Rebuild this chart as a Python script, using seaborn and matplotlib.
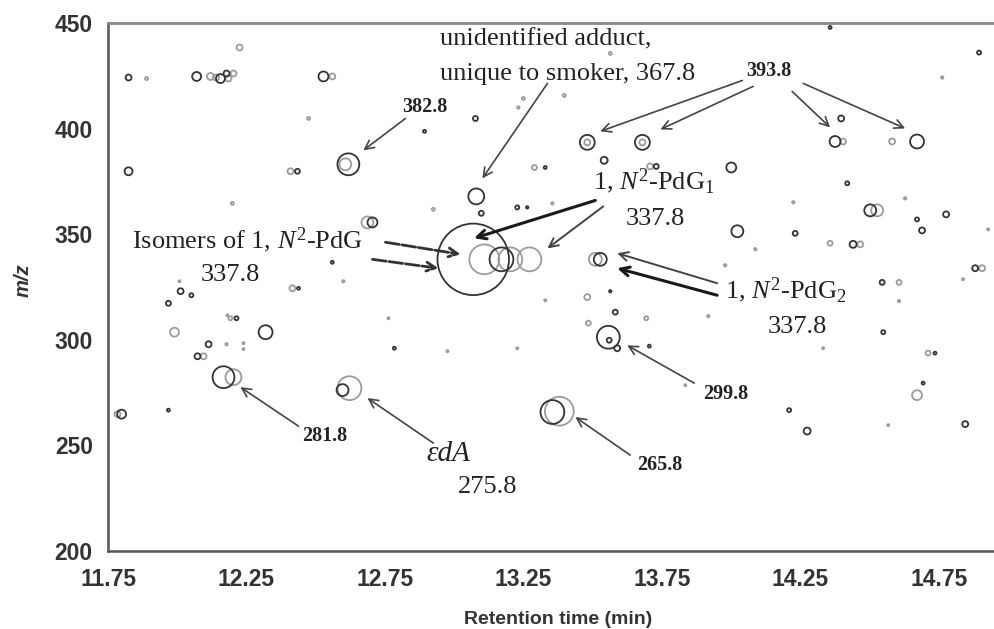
import matplotlib
matplotlib.use("Agg")
import matplotlib.pyplot as plt
import numpy as np
import pandas as pd
import seaborn as sns

# ---------------- data (retention time in min, m/z, relative intensity %) --------------
rt_smoker = [11.824, 12.07, 12.156, 12.178, 12.528, 11.824, 12.434, 12.618, 13.077, 12.893,
             13.08, 13.098, 12.705, 13.481, 13.68, 13.542, 13.329, 13.73, 13.228, 13.264,
             14.358, 14.896, 14.398, 14.376, 14.672, 14.001, 14.42, 14.503, 14.777, 14.023,
             14.672, 14.69, 14.232, 14.441, 13.528, 14.882, 14.546, 13.564, 13.582, 13.557,
             13.56, 13.589, 13.705, 14.55, 14.737, 14.694, 14.21, 14.275, 14.846, 13.355,
             13.069, 13.171, 12.56, 12.438, 12.012, 12.051, 11.968, 12.214, 12.319, 12.113,
             12.073, 12.167, 12.597, 11.799, 11.968, 12.784]
mz_smoker = [424.2, 424.7, 423.7, 426.1, 424.7, 379.8, 379.8, 383.1, 404.8, 398.7,
             367.9, 359.9, 355.6, 393.5, 393.5, 385.0, 381.6, 382.1, 362.7, 362.7,
             447.9, 436.0, 404.8, 393.9, 393.9, 381.6, 374.1, 361.3, 359.4, 351.4,
             357.0, 351.8, 350.4, 345.2, 338.1, 333.9, 327.2, 323.0, 313.1, 301.2,
             299.8, 296.0, 297.0, 303.6, 293.7, 279.5, 266.7, 256.8, 260.1, 265.8,
             338.1, 338.1, 336.7, 324.4, 323.0, 321.1, 317.3, 310.2, 303.6, 297.9,
             292.2, 282.3, 276.2, 264.8, 266.7, 296.0]
int_smoker = [0.69, 1.56, 1.56, 0.69, 1.93, 1.23, 0.48, 9.34, 0.48, 0.17,
              4.94, 0.48, 1.93, 4.34, 4.34, 0.95, 0.17, 0.48, 0.31, 0.11,
              0.17, 0.31, 0.69, 2.33, 3.78, 1.93, 0.31, 2.78, 0.69, 2.78,
              0.31, 0.69, 0.48, 0.95, 3.26, 0.69, 0.48, 0.11, 0.48, 10.2,
              0.48, 0.69, 0.17, 0.31, 0.17, 0.17, 0.31, 0.95, 0.69, 11.1,
              100.0, 11.1, 0.17, 0.17, 0.69, 0.31, 0.48, 0.31, 3.78, 0.69,
              0.69, 9.34, 2.78, 1.56, 0.17, 0.17]

rt_nonsmoker = [11.889, 12.12, 12.14, 12.185, 12.203, 12.225, 12.56, 12.474, 12.409, 12.607,
                12.199, 12.687, 12.925, 13.25, 13.232, 13.398, 13.564, 13.481, 13.68, 13.29,
                13.708, 13.355, 14.763, 14.405, 14.582, 14.225, 14.629, 14.528, 14.929, 14.358,
                14.467, 14.088, 13.51, 13.979, 14.907, 14.838, 14.607, 14.607, 13.481, 13.694,
                13.485, 13.918, 13.329, 14.333, 14.712, 14.672, 13.835, 14.568, 13.38, 13.228,
                13.109, 13.203, 13.272, 12.6, 12.416, 12.008, 12.192, 12.181, 11.99, 12.178,
                12.239, 12.239, 12.095, 12.203, 12.622, 11.784, 12.763, 12.976]
mz_nonsmoker = [423.7, 424.7, 424.2, 423.7, 426.1, 438.4, 424.7, 404.8, 379.8, 383.1,
                364.6, 355.6, 361.8, 414.3, 410.0, 415.7, 435.6, 393.5, 393.5, 381.6,
                382.1, 364.6, 424.2, 393.9, 393.9, 365.1, 367.0, 361.3, 352.3, 345.7,
                345.2, 342.9, 338.1, 335.3, 333.9, 328.7, 327.2, 318.3, 320.2, 310.2,
                307.9, 311.2, 318.7, 296.0, 293.7, 273.8, 278.5, 259.6, 266.2, 296.0,
                338.1, 338.1, 338.1, 327.7, 324.4, 327.7, 310.2, 311.6, 303.6, 297.9,
                298.4, 295.6, 292.2, 282.3, 277.1, 264.8, 310.2, 294.6]
int_nonsmoker = [0.17, 0.95, 0.69, 0.69, 0.69, 0.69, 0.69, 0.17, 0.69, 2.78,
                 0.17, 2.78, 0.17, 0.17, 0.11, 0.17, 0.17, 0.69, 0.69, 0.48,
                 0.69, 0.11, 0.11, 0.69, 0.69, 0.11, 0.11, 2.78, 0.08, 0.48,
                 0.69, 0.11, 3.26, 0.11, 0.69, 0.08, 0.48, 0.11, 0.69, 0.31,
                 0.48, 0.11, 0.08, 0.08, 0.48, 1.93, 0.08, 0.08, 16.2, 0.08,
                 17.4, 11.1, 11.1, 0.11, 0.69, 0.08, 0.31, 0.08, 1.56, 0.11,
                 0.08, 0.08, 0.69, 4.94, 11.1, 0.69, 0.08, 0.08]

x_ticks = [11.75, 12.25, 12.75, 13.25, 13.75, 14.25, 14.75]
y_ticks = [200, 250, 300, 350, 400, 450]

df = pd.DataFrame({
    "rt": rt_nonsmoker + rt_smoker,
    "mz": mz_nonsmoker + mz_smoker,
    "intensity": int_nonsmoker + int_smoker,
    "sample": ["non-smoker"] * len(rt_nonsmoker) + ["smoker"] * len(rt_smoker),
})

# ---------------- style ----------------
sns.set_style("white")
plt.rcParams["mathtext.fontset"] = "custom"
plt.rcParams["mathtext.rm"] = "Liberation Serif"
plt.rcParams["mathtext.it"] = "Liberation Serif:italic"
plt.rcParams["mathtext.bf"] = "Liberation Serif:bold"

fig = plt.figure(figsize=(9.94, 6.29), dpi=100)
ax = fig.add_axes([0.1087, 0.124, 0.8913, 0.8394])

sns.scatterplot(data=df, x="rt", y="mz", hue="sample", size="intensity",
                palette={"smoker": "#343434", "non-smoker": "#9b9b9b"},
                sizes=(0, 2650), size_norm=(0, 100), marker="o",
                legend=False, ax=ax)

for coll in ax.collections:
    fc = coll.get_facecolors()
    coll.set_edgecolors(fc)
    coll.set_facecolors("none")
    coll.set_linewidths(1.3)

ax.set_xlim(11.75, 14.95)
ax.set_ylim(200, 450)
ax.set_xticks(x_ticks)
ax.set_xticklabels([f"{t:.2f}" for t in x_ticks])
ax.set_yticks(y_ticks)
ax.set_yticklabels([str(t) for t in y_ticks])

tick_font = dict(family="Liberation Sans", weight="bold", size=16.5)
for lab in ax.get_xticklabels() + ax.get_yticklabels():
    lab.set_fontproperties(matplotlib.font_manager.FontProperties(**tick_font))
    lab.set_color("#333333")
ax.tick_params(axis="both", direction="in", length=6, width=1.5, color="#555555")
ax.tick_params(axis="y", pad=11)
ax.tick_params(axis="x", pad=12)

for side in ["left", "bottom"]:
    ax.spines[side].set_color("#555555")
    ax.spines[side].set_linewidth(1.8)
ax.spines["top"].set_color("#8a8a8a")
ax.spines["top"].set_linewidth(2.0)
ax.spines["right"].set_visible(False)

ax.set_xlabel("Retention time (min)", fontfamily="Liberation Sans", fontweight="bold",
              fontsize=14, color="#333333")
ax.set_ylabel("m/z", fontfamily="Liberation Sans", fontweight="bold", fontstyle="italic",
              fontsize=14.5, color="#333333")
ax.xaxis.set_label_coords(0.508, -0.113)
ax.yaxis.set_label_coords(-0.085, 0.513)

# ---------------- annotations ----------------
big = dict(family="Liberation Serif", size=19, color="#222222", va="baseline", ha="left")
small = dict(family="Liberation Serif", size=14.5, weight="bold", color="#222222",
             va="baseline", ha="left")

ax.text(12.95, 439.4, "unidentified adduct,", **big)
ax.text(12.95, 422.8, "unique to smoker, 367.8", **big)
ax.text(12.813, 407.7, "382.8", **small)
ax.text(14.055, 424.7, "393.8", **small)
ax.text(13.503, 371.2, r"1, $N^{2}$-PdG$_{1}$", **big)
ax.text(13.618, 354.2, "337.8", **big)
ax.text(11.835, 343.3, r"Isomers of 1, $N^{2}$-PdG", **big)
ax.text(12.084, 327.7, "337.8", **big)
ax.text(13.979, 319.7, r"1, $N^{2}$-PdG$_{2}$", **big)
ax.text(14.131, 303.1, "337.8", **big)
ax.text(13.90, 271.9, "299.8", **small)
ax.text(13.662, 238.3, "265.8", **small)
ax.text(12.452, 252.0, "281.8", **small)
ax.text(12.90, 242.6, "εdA", family="Liberation Serif", style="italic", size=21,
        color="#222222", va="baseline", ha="left")
ax.text(13.012, 227.4, "275.8", **big)

def arrow(frm, to, lw=1.2, color="#444444", ls="-"):
    ax.annotate("", xy=to, xytext=frm, xycoords="data", textcoords="data",
                arrowprops=dict(arrowstyle="->", color=color, lw=lw, linestyle=ls,
                                shrinkA=0, shrinkB=0, mutation_scale=16))

arrow((12.824, 404.8), (12.672, 389.7))
arrow((13.337, 421.4), (13.102, 376.4))
arrow((14.041, 422.8), (13.528, 398.7))
arrow((14.080, 420.0), (13.745, 399.6))
arrow((14.221, 417.6), (14.358, 400.6))
arrow((14.261, 421.4), (14.629, 400.1))
arrow((13.510, 366.0), (13.072, 348.1), lw=2.2, color="#1a1a1a")
arrow((13.539, 363.2), (13.337, 343.3), lw=1.4)
arrow((12.752, 346.2), (13.023, 340.5), lw=2.0, color="#333333", ls=(0, (5, 1)))
arrow((12.705, 338.1), (12.943, 333.9), lw=2.0, color="#333333", ls=(0, (5, 1)))
arrow((13.950, 326.8), (13.589, 341.0), lw=1.4)
arrow((13.950, 321.1), (13.589, 333.9), lw=2.2, color="#1a1a1a")
arrow((13.867, 279.5), (13.625, 297.4))
arrow((13.636, 245.4), (13.438, 263.4))
arrow((12.438, 259.1), (12.228, 277.6))
arrow((12.925, 251.1), (12.687, 272.4))

fig.savefig("out.png", dpi=100)
